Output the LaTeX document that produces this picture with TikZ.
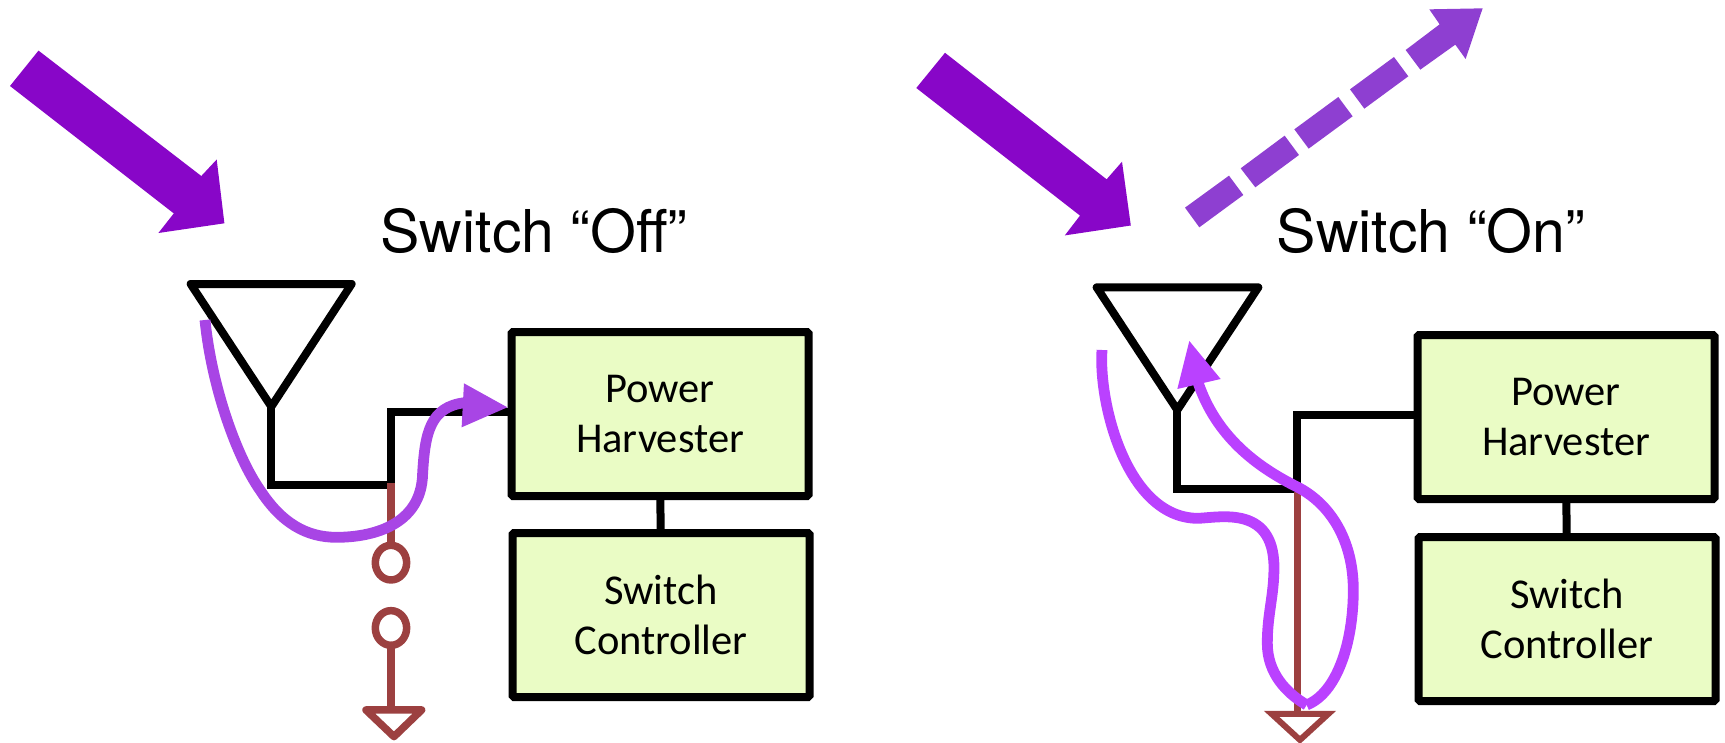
\documentclass[tikz,border=0pt]{standalone}
\usepackage{fontspec}
\setmainfont{TeX Gyre Heros}
\newfontfamily\boxfont{Carlito}
\definecolor{beamdark}{HTML}{8806C8}
\definecolor{beamdash}{HTML}{8E3FD1}
\definecolor{curveA}{HTML}{A845E5}
\definecolor{curveB}{HTML}{BA41FF}
\definecolor{brownwire}{HTML}{9C4040}
\definecolor{boxfill}{HTML}{EAFCC5}
\tikzset{
  wire/.style={line width=8pt,black,line join=miter},
  antenna/.style={line width=8pt,black,line join=round},
  brownline/.style={line width=7.5pt,brownwire},
  brownshape/.style={line width=7.5pt,brownwire,line join=round,fill=white},
  block/.style={draw=black,line width=8pt,fill=boxfill,rounded corners=1.5pt,minimum width=297pt,minimum height=164pt,align=center,inner sep=0pt,font=\boxfont\fontsize{42.5}{50}\selectfont},
  title/.style={anchor=base,font=\fontsize{59}{59}\selectfont,inner sep=0pt},
  curve/.style={line width=10.8pt,line cap=butt,line join=round},
}
\begin{document}
\begin{tikzpicture}[x=1pt,y=-1pt]
\useasboundingbox (0,0) rectangle (1725,742);
% incoming beams
\fill[beamdark] (10,86) -- (38.5,50.6) -- (201.3,176) -- (216.7,159.5) -- (224.4,223.3) -- (158.4,233) -- (173.8,213.4) -- cycle;
\fill[beamdark] (916.3,88) -- (945,52.8) -- (1106.6,179.3) -- (1122,161.7) -- (1130.8,225.5) -- (1064.8,235.4) -- (1080,215.6) -- cycle;
% reflected beam, dashed
\begin{scope}[xshift=1150pt,x=0.3333pt,y=-0.3333pt]
\fill[beamdash] (105,623) -- (237,527) -- (280,585) -- (148,682) -- cycle;
\fill[beamdash] (272,505) -- (404,407) -- (447,465) -- (316,562) -- cycle;
\fill[beamdash] (433,388) -- (565,291) -- (608,349) -- (476,446) -- cycle;
\fill[beamdash] (600,268) -- (732,171) -- (775,229) -- (643,326) -- cycle;
\fill[beamdash] (767,150) -- (869,73) -- (838,28) -- (998,25) -- (947,177) -- (916,134) -- (811,209) -- cycle;
\end{scope}
\node[title] (titleoff) at (534,252) {Switch “Off”};
\node[title] (titleon) at (1431,252) {Switch “On”};
% left blocks
\node[block] (harvA) at (660,414) {Power\\Harvester};
\node[block] (ctrlA) at (661,615) {Switch\\Controller};
\draw[wire] (harvA) -- (ctrlA);
% right blocks
\node[block] (harvB) at (1566,417) {Power\\Harvester};
\node[block] (ctrlB) at (1567,619) {Switch\\Controller};
\draw[wire] (harvB) -- (ctrlB);
% left panel
\begin{scope}[xshift=150pt,yshift=-260pt,x=0.3333pt,y=-0.3333pt]
\coordinate (a2) at (364,675);
\coordinate (a3) at (722,675);
\coordinate (a4) at (722,457);
\coordinate (a5) at (1075,457);
\draw[antenna] (122,72) -- (605,72) -- (364,440) -- cycle;
\draw[wire] (364,430) -- (a2) -- (a3) -- (a4) -- (a5);
\coordinate (b1) at (723,670);
\coordinate (b2) at (723,850);
\coordinate (b3) at (723,1162);
\coordinate (b4) at (723,1345);
\draw[brownline] (b1) -- (b2);
\draw[brownline] (b3) -- (b4);
\draw[brownshape] (723,908) ellipse [x radius=47,y radius=52];
\draw[brownshape] (723,1104) ellipse [x radius=47,y radius=52];
\draw[brownshape] (648,1350) -- (815,1350) -- (732,1430) -- cycle;
\draw[curve,curveA] (165,180) .. controls (185,380) and (260,590) .. (330,690)
  .. controls (395,790) and (470,832) .. (560,832)
  .. controls (660,832) and (815,800) .. (818,640)
  .. controls (825,520) and (840,440) .. (945,428);
\fill[curveA] (1072,442) -- (942,370) -- (935,502) -- cycle;
\end{scope}
% right panel
\begin{scope}[xshift=1060pt,yshift=-260pt,x=0.3333pt,y=-0.3333pt]
\coordinate (c2) at (352,687);
\coordinate (c3) at (710,687);
\coordinate (c4) at (710,466);
\coordinate (c5) at (1068,466);
\draw[antenna] (110,82) -- (595,82) -- (352,450) -- cycle;
\draw[wire] (352,440) -- (c2) -- (c3) -- (c4) -- (c5);
\coordinate (d1) at (712,695);
\coordinate (d2) at (712,1362);
\draw[brownline] (d1) -- (d2);
\draw[brownshape,line width=6pt,line join=miter] (635,1362) -- (805,1362) -- (720,1440) -- cycle;
\draw[curve,curveB] (126,270) .. controls (115,430) and (200,770) .. (410,775)
  .. controls (470,775) and (640,730) .. (642,920)
  .. controls (642,1010) and (622,1060) .. (622,1150)
  .. controls (622,1240) and (680,1300) .. (740,1335);
\draw[curve,curveB] (740,1335) .. controls (830,1300) and (880,1150) .. (880,990)
  .. controls (880,840) and (810,730) .. (710,680)
  .. controls (590,620) and (470,530) .. (415,370);
\fill[curveB] (388,243) -- (352,387) -- (482,357) -- cycle;
\end{scope}
\end{tikzpicture}
\end{document}
